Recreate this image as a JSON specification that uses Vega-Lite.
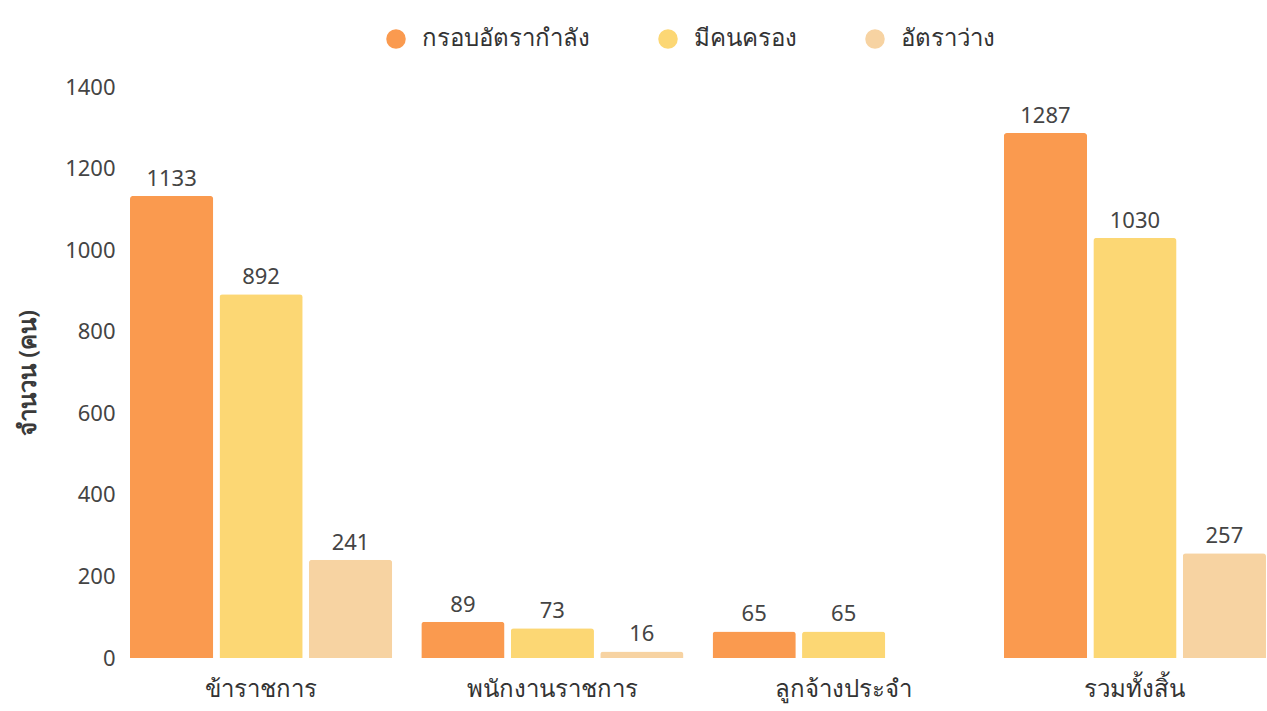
{
  "$schema": "https://vega.github.io/schema/vega-lite/v6.json",
  "autosize": "none",
  "width": 1136,
  "height": 571,
  "padding": {"left": 130, "top": 87, "right": 1, "bottom": 53},
  "background": "#ffffff",
  "config": {
    "view": {"stroke": null},
    "font": "Noto Sans",
    "axis": {"grid": false, "domain": false, "ticks": false}
  },
  "data": {
    "values": [
      {"cat": "ข้าราชการ", "series": "กรอบอัตรากำลัง", "value": 1133},
      {"cat": "ข้าราชการ", "series": "มีคนครอง", "value": 892},
      {"cat": "ข้าราชการ", "series": "อัตราว่าง", "value": 241},
      {"cat": "พนักงานราชการ", "series": "กรอบอัตรากำลัง", "value": 89},
      {"cat": "พนักงานราชการ", "series": "มีคนครอง", "value": 73},
      {"cat": "พนักงานราชการ", "series": "อัตราว่าง", "value": 16},
      {"cat": "ลูกจ้างประจำ", "series": "กรอบอัตรากำลัง", "value": 65},
      {"cat": "ลูกจ้างประจำ", "series": "มีคนครอง", "value": 65},
      {"cat": "ลูกจ้างประจำ", "series": "อัตราว่าง", "value": 0},
      {"cat": "รวมทั้งสิ้น", "series": "กรอบอัตรากำลัง", "value": 1287},
      {"cat": "รวมทั้งสิ้น", "series": "มีคนครอง", "value": 1030},
      {"cat": "รวมทั้งสิ้น", "series": "อัตราว่าง", "value": 257}
    ]
  },
  "encoding": {
    "x": {
      "field": "cat", "type": "nominal", "sort": null, "title": null,
      "scale": {"paddingInner": 0.1, "paddingOuter": 0},
      "axis": {"labelAngle": 0, "labelFontSize": 24, "labelColor": "#333333", "labelPadding": 19}
    },
    "xOffset": {
      "field": "series", "type": "nominal", "sort": null,
      "scale": {"paddingInner": 0.07, "paddingOuter": 0}
    },
    "y": {
      "field": "value", "type": "quantitative",
      "scale": {"domain": [0, 1400]},
      "title": "จำนวน (คน)",
      "axis": {"values": [0, 200, 400, 600, 800, 1000, 1200, 1400], "format": "d", "labelFontSize": 22, "labelColor": "#444444", "labelPadding": 15, "titleFontSize": 24, "titleFontWeight": 600, "titleColor": "#3a3a3a", "titlePadding": 24}
    }
  },
  "layer": [
    {
      "mark": {"type": "bar", "cornerRadiusTopLeft": 3, "cornerRadiusTopRight": 3},
      "encoding": {
        "color": {
          "field": "series", "type": "nominal", "sort": null,
          "scale": {"domain": ["กรอบอัตรากำลัง", "มีคนครอง", "อัตราว่าง"], "range": ["#fa9a4f", "#fcd774", "#f7d3a2"]},
          "legend": {
            "title": null, "orient": "none", "direction": "horizontal",
            "legendX": 254, "legendY": -60,
            "symbolType": "circle", "symbolSize": 380, "symbolStrokeWidth": 0,
            "labelFontSize": 24, "labelColor": "#333333", "labelOffset": 14, "labelLimit": 400,
            "columnPadding": 66
          }
        }
      }
    },
    {
      "transform": [{"filter": "datum.value > 0"}],
      "mark": {"type": "text", "baseline": "bottom", "dy": -5, "fontSize": 22, "color": "#444444"},
      "encoding": {"text": {"field": "value", "type": "quantitative"}}
    }
  ]
}
